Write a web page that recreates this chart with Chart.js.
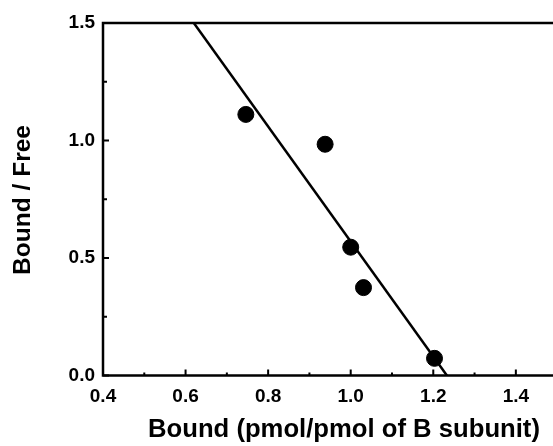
<!DOCTYPE html>
<html>
<head>
<meta charset="utf-8">
<script src="https://cdn.jsdelivr.net/npm/chart.js@4.4.0/dist/chart.umd.min.js"></script>
<style>
  html, body { margin: 0; padding: 0; background: #fff; }
  #wrap { width: 553px; height: 446px; }
</style>
</head>
<body>
<div id="wrap"><canvas id="chart"></canvas></div>
<script>
// measured points (Bound vs Bound/Free)
const boundX = [0.746, 0.938, 1.0, 1.031, 1.203]
const ratioY = [1.111, 0.984, 0.546, 0.374, 0.073]

// fitted line end points
const fitX = [0.62, 1.233]
const fitY = [1.5, 0.0]

const xTicks = [0.4, 0.6, 0.8, 1.0, 1.2, 1.4]
const yTicks = [0.0, 0.5, 1.0, 1.5]
const xMinor = [0.5, 0.7, 0.9, 1.1, 1.3]
const yMinor = [0.25, 0.75, 1.25]

const xTitle = 'Bound (pmol/pmol of B subunit)'
const yTitle = 'Bound / Free'

const fontFam = '"Liberation Sans", Arial, sans-serif'

function fitFont(ctx, text, width, size){
  ctx.font = 'bold ' + size + 'px ' + fontFam
  const w = ctx.measureText(text).width
  return size * width / w
}

const axesPlugin = {
  id: 'axesPlugin',
  afterDraw(chart){
    const {ctx, chartArea: {left, right, top, bottom}, scales: {x, y}} = chart
    ctx.save()
    ctx.strokeStyle = '#000'
    ctx.fillStyle = '#000'
    ctx.lineWidth = 2.5
    ctx.lineCap = 'square'
    // left, bottom and top frame lines
    ctx.beginPath()
    ctx.moveTo(right + 2, top)
    ctx.lineTo(left, top)
    ctx.lineTo(left, bottom)
    ctx.lineTo(right + 2, bottom)
    ctx.stroke()

    // inward ticks
    ctx.lineWidth = 2
    ctx.lineCap = 'butt'
    ctx.beginPath()
    xTicks.forEach(v => {
      const px = x.getPixelForValue(v)
      ctx.moveTo(px, bottom); ctx.lineTo(px, bottom - 6)
    })
    xMinor.forEach(v => {
      const px = x.getPixelForValue(v)
      ctx.moveTo(px, bottom); ctx.lineTo(px, bottom - 3)
    })
    yTicks.forEach(v => {
      const py = y.getPixelForValue(v)
      ctx.moveTo(left, py); ctx.lineTo(left + 6, py)
    })
    yMinor.forEach(v => {
      const py = y.getPixelForValue(v)
      ctx.moveTo(left, py); ctx.lineTo(left + 4, py)
    })
    ctx.stroke()

    // tick labels
    ctx.font = 'bold 19px ' + fontFam
    ctx.textAlign = 'center'
    ctx.textBaseline = 'middle'
    xTicks.forEach(v => {
      ctx.fillText(v.toFixed(1), x.getPixelForValue(v), bottom + 21)
    })
    ctx.textAlign = 'right'
    yTicks.forEach(v => {
      ctx.fillText(v.toFixed(1), left - 8, y.getPixelForValue(v))
    })

    // axis titles
    let size = fitFont(ctx, xTitle, 392, 20)
    ctx.font = 'bold ' + size + 'px ' + fontFam
    ctx.textAlign = 'center'
    ctx.textBaseline = 'alphabetic'
    ctx.fillText(xTitle, 344, 437)

    size = fitFont(ctx, yTitle, 150, 19)
    ctx.font = 'bold ' + size + 'px ' + fontFam
    ctx.translate(30, 200)
    ctx.rotate(-Math.PI / 2)
    ctx.fillText(yTitle, 0, 0)
    ctx.restore()
  }
}

const config = {
  type: 'scatter',
  data: {
    datasets: [
      {
        type: 'line',
        data: fitX.map((v, i) => ({x: v, y: fitY[i]})),
        borderColor: '#000',
        borderWidth: 2.5,
        pointRadius: 0,
        fill: false,
      },
      {
        data: boundX.map((v, i) => ({x: v, y: ratioY[i]})),
        backgroundColor: '#000',
        borderColor: '#000',
        pointRadius: 8,
        pointHoverRadius: 8,
      },
    ]
  },
  options: {
    responsive: true,
    maintainAspectRatio: false,
    animation: false,
    layout: { autoPadding: false, padding: { top: 23, right: 0, left: 0, bottom: 0 } },
    plugins: {
      legend: { display: false },
      tooltip: { enabled: false },
    },
    scales: {
      x: {
        type: 'linear',
        min: 0.4,
        max: 1.49,
        grid: { display: false, drawTicks: false },
        border: { display: false },
        ticks: { display: false },
        afterFit(scale){ scale.height = 70.5 },
      },
      y: {
        type: 'linear',
        min: 0,
        max: 1.5,
        grid: { display: false, drawTicks: false },
        border: { display: false },
        ticks: { display: false },
        afterFit(scale){ scale.width = 103 },
      },
    },
  },
  plugins: [axesPlugin],
}

new Chart(document.getElementById('chart'), config)
</script>
</body>
</html>
